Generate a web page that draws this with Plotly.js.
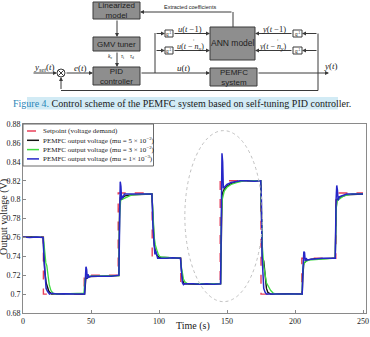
<!DOCTYPE html>
<html>
<head>
<meta charset="utf-8">
<script src="https://cdn.plot.ly/plotly-3.0.1.min.js"></script>
<style>
  html, body { margin: 0; padding: 0; background: #fff; overflow: hidden; }
  #frame { position: relative; width: 370px; height: 337px; overflow: hidden; }
  /* the figure carries a hidden 80 px gutter on the left */
  #chart { position: absolute; left: -80px; top: 0; width: 450px; height: 337px; }
</style>
</head>
<body>
<div id="frame"><div id="chart"></div></div>
<script>
// ---- Voltage demand (setpoint) ----
const tSetpoint = [0, 15, 15, 45, 45, 70, 70, 95, 95, 116, 116, 145, 145, 175, 175, 205, 205, 230, 230, 250];
const vSetpoint = [0.7605, 0.7605, 0.70, 0.70, 0.72, 0.72, 0.807, 0.807, 0.738, 0.738, 0.711, 0.711, 0.82, 0.82, 0.70, 0.70, 0.738, 0.738, 0.807, 0.807];

// ---- PEMFC output voltage, mu = 5e-2 ----
const tMu5e2 = [0, 7, 14.8, 15.3, 16, 17, 18, 19, 21, 30, 45.3, 45.8, 46.3, 47, 48, 50, 60, 70.5,
  71, 71.6, 72.3, 73, 75, 80, 94.8, 95.6, 96.5, 97.5, 98.5, 100, 108, 115.8, 116.5, 117.5, 118.5, 130, 145.3,
  145.8, 146.4, 147, 148, 150, 153, 157, 162, 174.8, 175.3, 176, 177, 178, 179, 180, 182, 195, 205.3,
  205.8, 206.5, 207.5, 209, 212, 229.6, 230.2, 230.8, 232, 234, 238, 250];
const vMu5e2 = [0.760, 0.7605, 0.760, 0.745, 0.725, 0.712, 0.706, 0.703, 0.700, 0.7005, 0.700, 0.710, 0.718, 0.717, 0.718, 0.7185, 0.719, 0.7195,
  0.790, 0.803, 0.800, 0.802, 0.804, 0.805, 0.806, 0.770, 0.752, 0.744, 0.741, 0.739, 0.7385, 0.738, 0.725, 0.714, 0.711, 0.7105, 0.711,
  0.790, 0.805, 0.808, 0.811, 0.814, 0.817, 0.819, 0.820, 0.820, 0.780, 0.738, 0.735, 0.722, 0.706, 0.702, 0.700, 0.7005, 0.700,
  0.720, 0.733, 0.734, 0.736, 0.737, 0.738, 0.790, 0.800, 0.801, 0.803, 0.805, 0.806];

// ---- PEMFC output voltage, mu = 3e-2 ----
const tMu3e2 = [0, 7, 15, 15.3, 16, 16.8, 17.5, 18.3, 19.3, 20.5, 22, 24, 35, 44.8, 45.6, 46.5, 48, 60, 70.5,
  71, 71.8, 72.5, 74, 76, 80, 94.8, 95.3, 95.8, 96.5, 97.3, 98, 98.8, 99.5, 100.5, 102, 115.8,
  116.3, 117, 118, 119, 121, 145.3, 145.8, 146.5, 147.2, 148, 150, 153, 157, 163, 174.8,
  175.3, 176, 177, 178, 179, 180.5, 182, 184, 186, 205.3, 205.5, 206.2, 207.5, 210, 229.6,
  230.3, 231, 233, 236, 242, 250];
const vMu3e2 = [0.760, 0.760, 0.760, 0.755, 0.740, 0.733, 0.730, 0.720, 0.710, 0.704, 0.701, 0.700, 0.7003, 0.701, 0.716, 0.718, 0.719, 0.719, 0.7195,
  0.780, 0.799, 0.800, 0.801, 0.803, 0.805, 0.806, 0.790, 0.772, 0.760, 0.752, 0.747, 0.745, 0.742, 0.740, 0.739, 0.738,
  0.730, 0.722, 0.716, 0.713, 0.711, 0.711, 0.780, 0.800, 0.806, 0.809, 0.813, 0.816, 0.818, 0.820, 0.820,
  0.790, 0.750, 0.730, 0.720, 0.712, 0.708, 0.704, 0.701, 0.700, 0.700, 0.720, 0.731, 0.734, 0.736, 0.738,
  0.790, 0.799, 0.801, 0.804, 0.806, 0.806];

// ---- PEMFC output voltage, mu = 1e-3 ----
const tMu1e3 = [0, 5, 10, 14.8, 15.5, 16.3, 17, 18, 19.5, 21, 25, 30, 35, 40, 45.3,
  45.8, 46.3, 46.8, 47.3, 47.8, 48.5, 50, 55, 60, 65, 70.5,
  71, 71.5, 72, 72.5, 73, 73.6, 74.5, 80, 85, 90, 94.8,
  95.6, 96.3, 97, 97.6, 98.3, 99, 105, 110, 115.8,
  116.5, 117.2, 118, 119, 125, 130, 135, 140, 145.3,
  145.8, 146.3, 146.8, 147.3, 148, 150, 153, 157, 160, 165, 170, 174.8,
  175.3, 175.8, 176.3, 177, 178, 179, 185, 190, 195, 200, 205.3,
  205.8, 206.5, 207, 207.5, 208.2, 209, 212, 220, 229.6,
  230.2, 230.7, 231.2, 231.7, 232.5, 234, 238, 245, 250];
const vMu1e3 = [0.7605, 0.760, 0.7605, 0.760, 0.735, 0.712, 0.706, 0.703, 0.700, 0.701, 0.700, 0.7005, 0.700, 0.700, 0.700,
  0.718, 0.729, 0.726, 0.716, 0.721, 0.718, 0.719, 0.719, 0.7195, 0.719, 0.720,
  0.800, 0.819, 0.814, 0.800, 0.804, 0.802, 0.806, 0.806, 0.8065, 0.806, 0.806,
  0.770, 0.748, 0.742, 0.746, 0.740, 0.738, 0.738, 0.7385, 0.738,
  0.720, 0.712, 0.710, 0.711, 0.711, 0.7105, 0.711, 0.7105, 0.711,
  0.800, 0.849, 0.840, 0.812, 0.813, 0.816, 0.818, 0.819, 0.820, 0.820, 0.8195, 0.820,
  0.800, 0.740, 0.715, 0.706, 0.702, 0.700, 0.700, 0.700, 0.7005, 0.700, 0.700,
  0.725, 0.745, 0.744, 0.735, 0.738, 0.736, 0.737, 0.738, 0.738,
  0.800, 0.815, 0.810, 0.799, 0.803, 0.804, 0.806, 0.806, 0.806];

// ---- Axis ticks and labels ----
const xTicks = [0, 50, 100, 150, 200, 250];
const yTicks = [0.68, 0.70, 0.72, 0.74, 0.76, 0.78, 0.80, 0.82, 0.84, 0.86, 0.88];
const yTickText = ['0.68', '0.7', '0.72', '0.74', '0.76', '0.78', '0.8', '0.82', '0.84', '0.86', '0.88'];
const seriesNames = [
  'Setpoint (voltage demand)',
  'PEMFC output voltage (mu = 5 × 10<sup>−2</sup>)',
  'PEMFC output voltage (mu = 3 × 10<sup>−2</sup>)',
  'PEMFC output voltage (mu = 1× 10<sup>−3</sup>)'
];
const seriesColors = ['#e8405a', '#141414', '#3fdc3f', '#2626c8'];

// page geometry: visible page is 370 x 337; the figure is 80 px wider on the left (hidden).
// Plot area starts at page x = 23. px()/py() turn page pixels into paper fractions.
const W = 370, H = 337, GUTTER = 80, PLOT_L = 23;
const FIG_W = W + GUTTER, ML = GUTTER + PLOT_L;
const px = x => (x + GUTTER - ML) / (FIG_W - ML);
const py = y => 1 - y / H;

const SERIF = 'Liberation Serif, Times New Roman, serif';
const SANS = 'Liberation Sans, Arial, sans-serif';

const traces = [
  { x: tSetpoint, y: vSetpoint, name: seriesNames[0], mode: 'lines',
    line: { color: seriesColors[0], width: 1.4, dash: 'dash' } },
  { x: tMu5e2, y: vMu5e2, name: seriesNames[1], mode: 'lines',
    line: { color: seriesColors[1], width: 1.4 } },
  { x: tMu3e2, y: vMu3e2, name: seriesNames[2], mode: 'lines',
    line: { color: seriesColors[2], width: 1.3 } },
  { x: tMu1e3, y: vMu1e3, name: seriesNames[3], mode: 'lines',
    line: { color: seriesColors[3], width: 1.5 } }
];

const shapes = [];
const annotations = [];

// ---------- block diagram ----------
const BOX_FILL = '#8e8e8e', BOX_LINE = '#3a3a3a', WIRE = '#3a3a3a';
function box(x0, y0, x1, y1, label, size, fill) {
  shapes.push({ type: 'rect', xref: 'paper', yref: 'paper', x0: px(x0), x1: px(x1), y0: py(y1), y1: py(y0),
    fillcolor: fill || BOX_FILL, line: { color: BOX_LINE, width: 1 }, layer: 'above' });
  if (label) annotations.push({ xref: 'paper', yref: 'paper', x: px((x0 + x1) / 2), y: py((y0 + y1) / 2),
    text: label, showarrow: false, font: { family: SANS, size: size || 8, color: '#1e1e1e' },
    xanchor: 'center', yanchor: 'middle' });
}
function wire(x0, y0, x1, y1) {
  shapes.push({ type: 'line', xref: 'paper', yref: 'paper', x0: px(x0), x1: px(x1), y0: py(y0), y1: py(y1),
    line: { color: WIRE, width: 1 }, layer: 'above' });
}
function arrow(x0, y0, x1, y1) {
  annotations.push({ xref: 'paper', yref: 'paper', x: px(x1), y: py(y1), ax: x0 - x1, ay: y0 - y1,
    axref: 'pixel', ayref: 'pixel', text: '', showarrow: true, arrowhead: 2, arrowsize: 0.8,
    arrowwidth: 1, arrowcolor: WIRE, standoff: 0 });
}
function label(x, y, text, size, opts) {
  annotations.push(Object.assign({ xref: 'paper', yref: 'paper', x: px(x), y: py(y), text: text,
    showarrow: false, font: { family: SERIF, size: size, color: '#1a1a1a' },
    xanchor: 'center', yanchor: 'middle' }, opts || {}));
}

box(93, 2, 140, 19, 'Linearized<br>model');
box(93, 37, 140, 51, 'GMV tuner');
box(93, 67, 140, 85, 'PID<br>controller');
box(210, 27, 255, 60, 'ANN model', 8.5);
box(210, 68, 257, 86, 'PEMFC<br>system');
box(165, 30, 173, 37, 'q<sup>-1</sup>', 4.5, '#ffffff');
box(165, 47, 173, 54, 'q<sup>-1</sup>', 4.5, '#ffffff');
box(293, 30, 302, 37, 'q<sup>-1</sup>', 4.5, '#ffffff');
box(293, 47, 302, 54, 'q<sup>-1</sup>', 4.5, '#ffffff');

// summing junction
shapes.push({ type: 'circle', xref: 'paper', yref: 'paper', x0: px(57), x1: px(65), y0: py(77), y1: py(69),
  line: { color: WIRE, width: 1 }, fillcolor: '#ffffff', layer: 'above' });
wire(58.2, 70.2, 63.8, 75.8);
wire(58.2, 75.8, 63.8, 70.2);

arrow(32, 73, 57, 73);
arrow(65, 73, 93, 73);
arrow(140, 73, 210, 73);
wire(155, 73, 155, 33);
arrow(155, 33.5, 165, 33.5);
arrow(155, 50.5, 165, 50.5);
arrow(173, 33.5, 210, 33.5);
arrow(173, 50.5, 210, 50.5);
arrow(257, 73, 329, 73);
wire(318, 33.5, 318, 90.5);
arrow(318, 33.5, 302, 33.5);
arrow(318, 50.5, 302, 50.5);
arrow(293, 33.5, 255, 33.5);
arrow(293, 50.5, 255, 50.5);
wire(318, 90.5, 61, 90.5);
arrow(61, 90.5, 61, 77);
wire(233, 27, 233, 12);
arrow(233, 12, 140, 12);
arrow(117, 19, 117, 37);
arrow(117, 51, 117, 67);

label(190, 7, 'Extracted coefficients', 5.5, { font: { family: SANS, size: 5.5, color: '#1a1a1a' } });
label(44, 68, '<i>y</i><sub><i>set</i></sub>(<i>t</i>)', 9);
label(80, 68, '<i>e</i>(<i>t</i>)', 9);
label(183, 68, '<i>u</i>(<i>t</i>)', 9);
label(331, 66, '<i>y</i>(<i>t</i>)', 9);
label(190, 29, '<i>u</i>(<i>t</i> −1)', 8.5);
label(193, 39.5, ':', 5);
label(190, 47, '<i>u</i>(<i>t</i> − <i>n</i><sub><i>u</i></sub>)', 8);
label(274, 29, '<i>y</i>(<i>t</i> −1)', 8.5);
label(277, 39.5, ':', 5);
label(272, 47, '<i>y</i>(<i>t</i> − <i>n</i><sub><i>y</i></sub>)', 8);
label(110, 57, '<i>k</i><sub>c</sub>', 5.5);
label(122, 57, '<i>τ</i><sub>i</sub>', 5.5);
label(132, 57, '<i>τ</i><sub>d</sub>', 5.5);

// caption band
shapes.push({ type: 'rect', xref: 'paper', yref: 'paper', x0: px(27), x1: px(338), y0: py(109.5), y1: py(97),
  fillcolor: '#d2ebf5', line: { width: 0 }, layer: 'above' });
label(182, 103.3, '<span style="color:#2a86b8">Figure 4.</span> Control scheme of the PEMFC system based on self-tuning PID controller.', 10);

// ---------- chart frame extras ----------
// highlight ellipse around the 145 s step
shapes.push({ type: 'circle', xref: 'x', yref: 'y', x0: 119, x1: 176, y0: 0.692, y1: 0.873,
  line: { color: '#c0c0c0', width: 1, dash: 'dot' }, layer: 'above' });

// legend box
shapes.push({ type: 'rect', xref: 'paper', yref: 'paper', x0: px(23), x1: px(153.5), y0: py(166), y1: py(124),
  fillcolor: '#ffffff', line: { color: '#6a6a6a', width: 1 }, layer: 'above' });
const legendRows = [131, 140.3, 149.6, 158.9];
legendRows.forEach((yy, i) => {
  shapes.push({ type: 'line', xref: 'paper', yref: 'paper', x0: px(27), x1: px(39), y0: py(yy), y1: py(yy),
    line: { color: seriesColors[i], width: 1.5, dash: i === 0 ? 'dash' : 'solid' }, layer: 'above' });
  label(41, yy, seriesNames[i], 7, { xanchor: 'left' });
});

// axis titles
label(193, 326, 'Time (s)', 10);
label(12, 217, 'Output voltage (V)', 10, { textangle: -90, xanchor: 'right' });

const layout = {
  width: FIG_W, height: H,
  margin: { l: ML, r: 0, t: 0, b: 0, autoexpand: false },
  paper_bgcolor: '#ffffff', plot_bgcolor: '#ffffff',
  showlegend: false,
  xaxis: {
    domain: [0, px(366)], range: [0, 252.2],
    tickvals: xTicks, ticks: 'inside', ticklen: 3, tickcolor: '#888',
    showline: true, mirror: true, linecolor: '#8a8a8a', linewidth: 1,
    showgrid: false, zeroline: false,
    tickfont: { family: SERIF, size: 8, color: '#222' }
  },
  yaxis: {
    domain: [(H - 313) / H, (H - 124) / H], range: [0.68, 0.88],
    tickvals: yTicks, ticktext: yTickText, ticks: 'inside', ticklen: 3, tickcolor: '#888',
    showline: true, mirror: true, linecolor: '#8a8a8a', linewidth: 1,
    showgrid: false, zeroline: false,
    tickfont: { family: SERIF, size: 8, color: '#222' }
  },
  shapes: shapes,
  annotations: annotations
};

Plotly.newPlot('chart', traces, layout, { staticPlot: true, displayModeBar: false });
</script>
</body>
</html>
